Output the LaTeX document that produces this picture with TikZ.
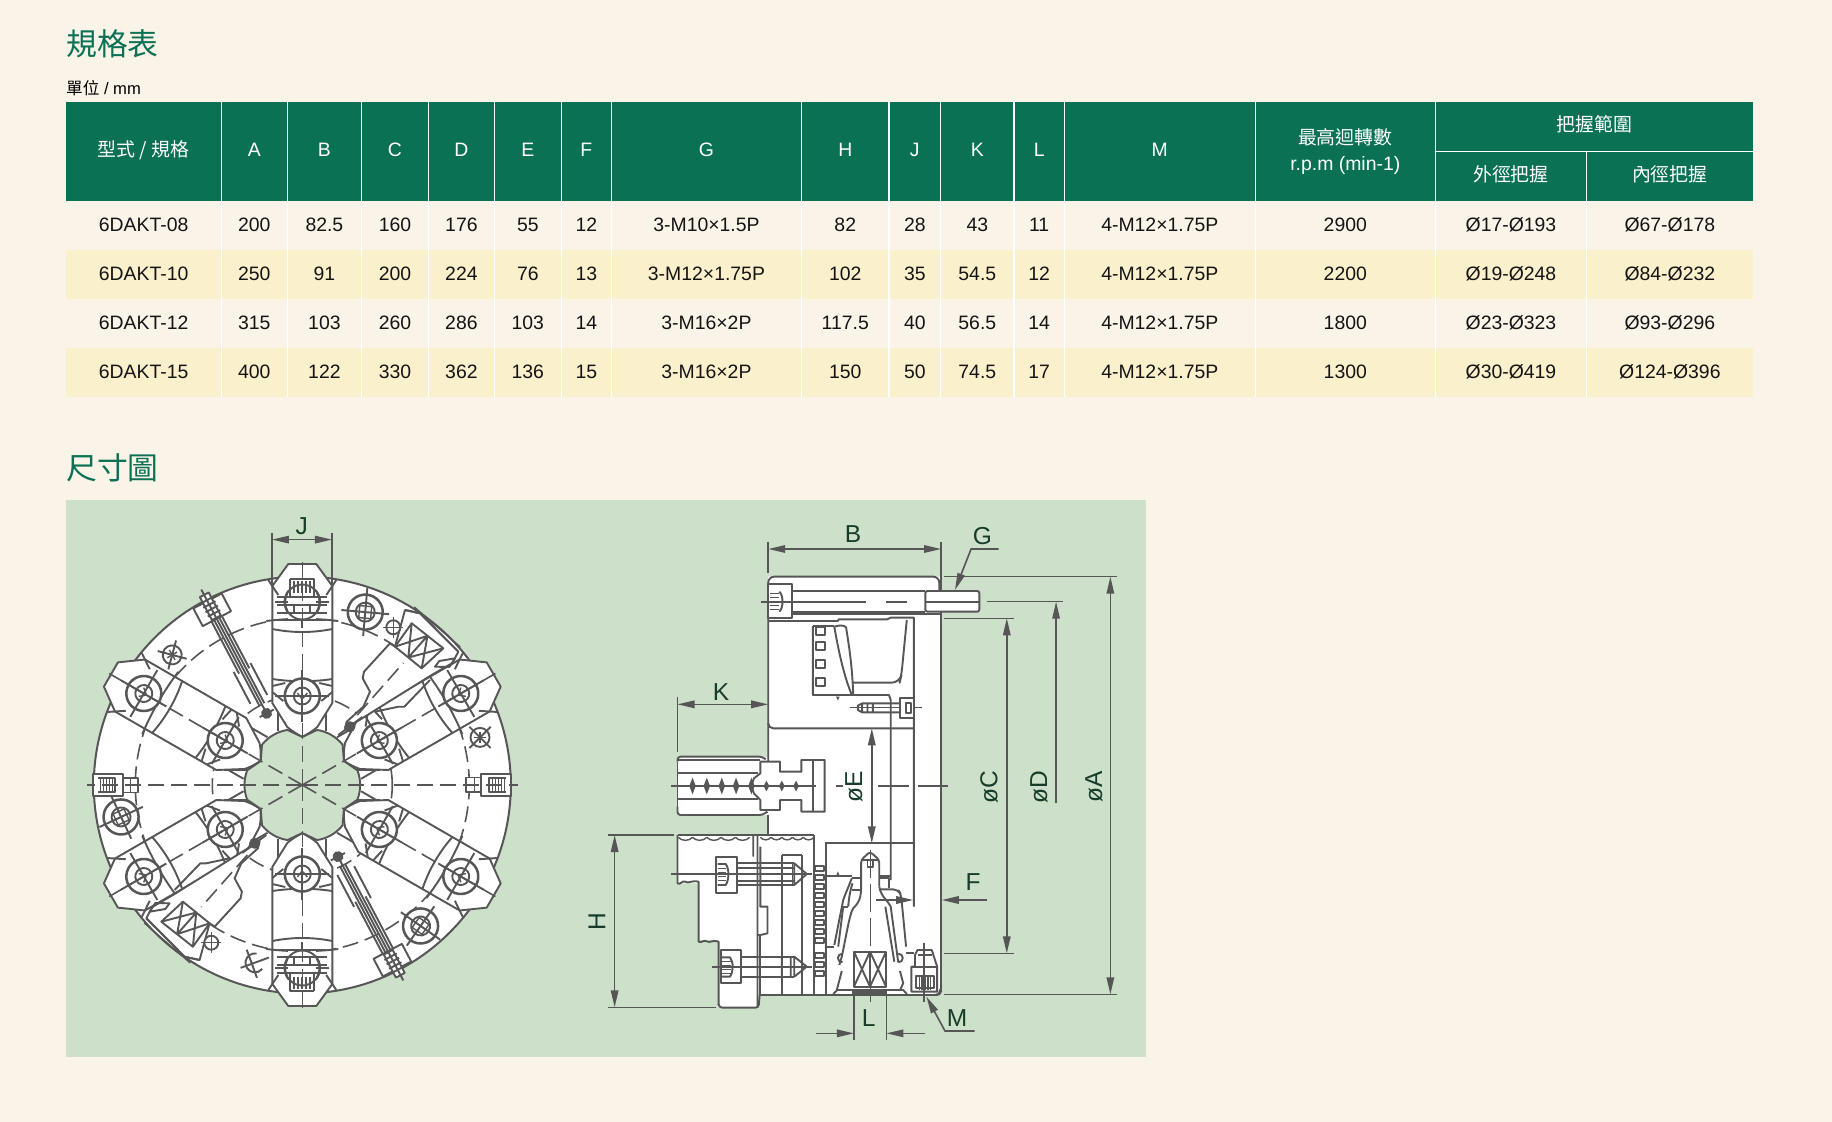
\documentclass[tikz,border=0pt]{standalone}
\usepackage{fontspec}
\setmainfont{Liberation Sans}
\newfontfamily\cjk{Noto Sans CJK TC}
\usetikzlibrary{arrows.meta}
\definecolor{pagebg}{HTML}{FAF3E8}
\definecolor{headgreen}{HTML}{0B7155}
\definecolor{rowa}{HTML}{FBF0CC}
\definecolor{panel}{HTML}{CDE0CA}
\definecolor{lc}{HTML}{565656}
\definecolor{lab}{HTML}{173C2A}
\newcommand\zh[1]{{\fontsize{18.9}{22}\selectfont\cjk #1}}
\tikzset{
  ln/.style={line width=1.9pt,draw=lc,line join=round},
  tn/.style={line width=1.4pt,draw=lc,line join=round},
  thk/.style={line width=2.6pt,draw=lc},
  axis/.style={line width=1.6pt,draw=lc,dash pattern=on 16pt off 7pt},
  cell/.style={inner sep=0pt,text=black!92,font=\fontsize{19.4}{22}\selectfont,anchor=center,text height=13.9pt,text depth=0pt},
  headcell/.style={cell,text=white},
  title/.style={inner sep=0pt,text=headgreen,font=\fontsize{30.8}{34}\selectfont\cjk,anchor=west},
  dim/.style={line width=1.6pt,draw=lc},
  arr/.style={-{Triangle[length=17pt,width=7.5pt,fill=lc]}},
  darr/.style={{Triangle[length=17pt,width=7.5pt,fill=lc]}-{Triangle[length=17pt,width=7.5pt,fill=lc]}},
  lbl/.style={inner sep=0pt,text=lab,font=\fontsize{24.5}{26}\selectfont},
  za/.style={shift={(580,510)},x=0.35714pt,y=-0.33333pt},
  zb/.style={shift={(580,800)},x=0.35714pt,y=-0.33333pt},
}
\def\colcenters{{143.7,254.35,324.4,395,461.4,527.8,586.35,706.45,845.25,914.8,977.3,1039.2,1159.8,1345.3,1510.95,1669.85}}
\newcommand\tablerow[3]{%
  \foreach \celltxt [count=\i from 0] in {#3} {
    \pgfmathsetmacro\cellx{\colcenters[\i]}
    \node[cell] (#2-\i) at (\cellx,#1) {\celltxt};
  }%
}
% one jaw, pointing up, tip towards the centre
\newcommand\jaw[1]{%
\begin{scope}[rotate=#1]
  \draw[ln] (-24,78)--(-24,54) (24,78)--(24,54);
  \filldraw[ln,fill=white] (-30,82)--(-30,199)--(-14,221)--(14,221)--(30,199)--(30,82)--(15,58)
     .. controls (8,52) and (3,50) .. (0,48) .. controls (-3,50) and (-8,52) .. (-15,58)--cycle;
  \draw[ln] (-36,164) .. controls (-12,167) and (12,167) .. (36,164);
  \draw[ln] (-30,156) .. controls (-10,152) and (10,152) .. (30,156);
  \draw[ln] (-30,106) .. controls (-10,103) and (10,103) .. (30,106);
  \draw[ln] (-30,99) -- (-17,102) (30,99) -- (17,102) (-30,93)--(-19,84) (30,93)--(19,84);
  \draw[ln] (-34,205)--(-24,190) (34,205)--(24,190);
  \foreach \cy in {89,183} {
    \filldraw[ln,fill=white,line width=2.5pt] (0,\cy) circle (17.5);
    \draw[ln] (0,\cy) circle (8.5);
    \draw[tn] (-5,\cy+3)--(-1,\cy-2)--(1,\cy-2)--(5,\cy+3);
    \draw[ln] (-27,\cy)--(27,\cy) (0,\cy-26)--(0,\cy+26);
  }
\end{scope}}
\newcommand\jawhatch[1]{%
\begin{scope}[rotate=#1]
  \fill[white] (-14,166) rectangle (14,210);
  \draw[ln] (0,183) circle (17.5);
  \draw[ln] (-12,206)--(12,206)--(12,188) (-12,206)--(-12,188);
  \foreach \hx in {-8,-4,0,4,8} {\draw[ln] (\hx,192)--(\hx,204);}
  \draw[ln] (-25,188)--(25,188) (-25,180)--(25,180) (-25,172)--(25,172);
  \draw[ln] (-8,181)--(-8,172) (8,181)--(8,172);
  \draw[thk] (-24,165)--(24,165);
\end{scope}}
\newcommand\bigbolt[1]{%
\begin{scope}[shift={(#1:184)},rotate=#1+15]
  \filldraw[ln,fill=white,line width=2.5pt] (0,0) circle (17.5);
  \draw[ln] (0,0) circle (9.5);
  \draw[tn] (-6,-6) rectangle (6,6);
  \draw[ln] (-24,0)--(24,0) (0,-24)--(0,24);
\end{scope}}
\newcommand\smallbolt[1]{%
\begin{scope}[shift={(#1:184)},rotate=#1+30]
  \draw[ln] (0,0) circle (9.5);
  \draw[ln] (-15,0)--(15,0) (0,-15)--(0,15);
  \draw[tn] (-4,-4)--(4,4) (-4,4)--(4,-4);
\end{scope}}
\newcommand\lockpiece[1]{%
\begin{scope}[rotate=#1]
  \filldraw[ln,fill=white] (-209,11) rectangle (-179,-11);
  \filldraw[ln,fill=white] (-179,7) rectangle (-164,-7.5);
  \draw[ln] (-204,7)--(-187,7)--(-187,-7)--(-204,-7);
  \foreach \hx in {-202,-199,-196,-193,-190} {\draw[tn] (\hx,-6)--(\hx,6);}
  \draw[tn] (-172,7)--(-172,-7.5);
\end{scope}}
\newcommand\slimscrew[1]{%
\begin{scope}[rotate=#1]
\begin{scope}[rotate=27.8]
  \filldraw[ln,fill=white] (-14,187) -- (-14,207) -- (18,207) -- (18,187) -- cycle;
  \filldraw[ln,fill=white] (-3,188) rectangle (7,214);
  \foreach \hy in {193,198,203,208} {\draw[ln] (-5,\hy)--(9,\hy);}
  \draw[ln] (-1,90)--(-1,188) (4.6,90)--(4.6,188);
  \draw[ln] (1.8,79)--(1.8,220);
  \draw[ln] (-8,96)--(-8,132) (11,96)--(11,132) (-4,128)--(-4,188) (7.6,128)--(7.6,188);
  \fill[lc] (1.8,80) circle (5.5);
  \draw[ln] (-6,80)--(10,80);
\end{scope}
\end{scope}}
\newcommand\wedgepart[1]{%
\begin{scope}[rotate=#1]
  \filldraw[ln,fill=white] (42.7,56.7)--(44.4,63.3)--(61,78.3)--(67.7,93.3)--(60.4,106.7)--(61.7,113.3)--(87.7,141.7)
     --(92.7,138.3)--(102.7,175)--(117.7,171.7)--(156,133.3)--(150,122)--(127.7,109)--(54.4,63.3)--cycle;
  \draw[ln] (109.4,161.7)--(141,136.7)--(119.4,116.7)--(92.7,138.3)--cycle;
  \draw[ln] (125.2,149.2)--(106,127.5) (109.4,161.7)--(106,127.5) (92.7,138.3)--(125.2,149.2) (125.2,149.2)--(119.4,116.7) (141,136.7)--(106,127.5);
  \draw[ln] (102.7,175)--(117.7,171.7) (117.7,171.7)--(156,133.3);
  \draw[tn] (112,178)--(158,138);
  \draw[ln] (132.7,118.3)--(137,124)--(152.7,126.7)--(147,118)--cycle;
  \draw[ln] (72.7,73.3)--(96,78.3)--(102,78.3)--(127.7,105);
  \filldraw[ln,fill=white] (91,157.7) circle (7);
  \draw[tn] (81,157.7)--(101,157.7) (91,147)--(91,168);
  \fill[lc] (47.7,58.3) circle (5.5);
  \draw[ln] (36,50)--(60,68);
  \draw[axis] (55,70)--(101,122);
\end{scope}}
\newcommand\lobe[1]{-- ({#1+15}:57) .. controls ({#1+5}:59) and ({#1-5}:59) .. ({#1-15}:57) -- ({#1-30}:48)}
\begin{document}
\begin{tikzpicture}[x=1pt,y=-1pt]
\useasboundingbox (0,0) rectangle (1832,1122);
\fill[pagebg] (0,0) rectangle (1832,1122);
% ---------- titles
\node[title] (t1) at (66,43.5) {規格表};
\node[inner sep=0pt,anchor=west,text=black,font=\fontsize{16.6}{18}\selectfont] (unit) at (66,88) {{\cjk 單位} / mm};
\node[title] (t2) at (66,467.5) {尺寸圖};
% ---------- table
\fill[headgreen] (66.07,101.7) rectangle (1753.2,201);
\fill[rowa] (66.07,250) rectangle (1753.2,299);
\fill[rowa] (66.07,348) rectangle (1753.2,397);
\foreach \sx in {221.4,287.3,361.5,428.5,494.3,561.3,611.4,801.5,889,940.6,1014,1064.8,1255.2,1435.4}
  {\draw[white,line width=1.2pt] (\sx,101.7)--(\sx,397);}
\draw[white,line width=1.2pt] (1586.5,151.7)--(1586.5,397);
\draw[white,line width=1.2pt] (1435.4,151.7)--(1753.2,151.7);
\node[headcell] (h0) at (143.7,149.5) {\zh{型式 / 規格}};
\foreach \hx/\hdtxt [count=\i] in {254.35/A,324.4/B,395/C,461.4/D,527.8/E,586.35/F,706.45/G,845.25/H,914.8/J,977.3/K,1039.2/L,1159.8/M}
  {\node[headcell] (h\i) at (\hx,149.5) {\hdtxt};}
\node[headcell] (h13) at (1345.3,137.5) {\zh{最高迴轉數}};
\node[headcell] (h14) at (1345.3,163.5) {r.p.m (min-1)};
\node[headcell] (h15) at (1594.3,125) {\zh{把握範圍}};
\node[headcell] (h16) at (1510.95,174.5) {\zh{外徑把握}};
\node[headcell] (h17) at (1669.85,174.5) {\zh{內徑把握}};
\tablerow{224.5}{ra}{6DAKT-08,200,82.5,160,176,55,12,3-M10×1.5P,82,28,43,11,4-M12×1.75P,2900,Ø17-Ø193,Ø67-Ø178}
\tablerow{273.5}{rb}{6DAKT-10,250,91,200,224,76,13,3-M12×1.75P,102,35,54.5,12,4-M12×1.75P,2200,Ø19-Ø248,Ø84-Ø232}
\tablerow{322.5}{rc}{6DAKT-12,315,103,260,286,103,14,3-M16×2P,117.5,40,56.5,14,4-M12×1.75P,1800,Ø23-Ø323,Ø93-Ø296}
\tablerow{371.5}{rd}{6DAKT-15,400,122,330,362,136,15,3-M16×2P,150,50,74.5,17,4-M12×1.75P,1300,Ø30-Ø419,Ø124-Ø396}
% ---------- panel
\fill[panel] (66,500) rectangle (1146,1057);
% ---------- front view
\begin{scope}[shift={(302.3,785)},x=1pt,y=1pt]
  \filldraw[ln,fill=white,line width=2pt] (0,0) circle (208.5);
  \draw[axis] (0,0) circle (167);
  \draw[axis] (0,0) circle (90);
  % ribs in the gaps
  \foreach \ang in {0,180} {
    \begin{scope}[rotate=\ang]
      \draw[ln] (55,15)--(78,15) (55,-15)--(78,-15);
    \end{scope}}
  \lockpiece{0}\lockpiece{180}
  \foreach \ang in {0,120,240} {\bigbolt{70+\ang}}
  \smallbolt{135}\smallbolt{15}
  \begin{scope}[shift={(255:184)},rotate=20]
    \draw[ln] (5,8) arc (60:300:9.5);
    \draw[ln] (-15,0)--(15,0) (-3,-15)--(-3,15);
  \end{scope}
  \slimscrew{0}\slimscrew{180}
  \jaw{-60}\jaw{60}\jaw{120}\jaw{-120}\jaw{0}\jaw{180}
  \jawhatch{0}\jawhatch{180}
  \wedgepart{0}\wedgepart{180}
  % central bore
  \filldraw[ln,fill=panel] (30:48) \lobe{0} \lobe{-60} \lobe{-120} \lobe{-180} \lobe{-240} \lobe{-300} -- cycle;
  % centre lines
  \foreach \ang/\rad in {0/216,180/215,90/223,270/230,30/228,150/228,210/228,330/228}
    {\draw[axis] (0,0) -- (\ang:\rad);}
\end{scope}
% J dimension
\begin{scope}[shift={(60,500)},x=0.33333pt,y=-0.34435pt]
  \draw[dim] (636,95)--(636,250) (816,95)--(816,250);
  \draw[dim,darr] (636,115)--(816,115);
\end{scope}
\node[lbl] (lJ) at (301.7,526) {J};
% ---------- side view
\begin{scope}[za]
  \fill[white] (527,200)--(1011,200)--(1011,1455)--(500,1455)--(500,1492)--(392,1492)--(388,1485)--(388,1290)--(332,1290)--(332,1120)--(273,1120)--(273,975)--(527,975)--cycle;
  \fill[white] (273,740) rectangle (527,915);
  % body
  \draw[ln,rounded corners=6pt] (527,755)--(527,200)--(1006,200)--(1006,242);
  \draw[ln] (527,915)--(527,975);
  \draw[ln,line width=2.2pt] (1011,95)--(1011,1445);
  \draw[ln,rounded corners=4pt] (1011,1445)--(1011,1455)--(503,1455);
  \draw[ln] (527,332)--(720,332) (595,312)--(1011,312);
  \draw[ln] (720,335)--(725,328)--(860,328)--(870,323)--(935,323)--(935,1190);
  % main bolt
  \draw[ln] (527,243)--(967,243) (527,305)--(967,305);
  \filldraw[ln,fill=white] (527,222)--(593,222)--(593,325)--(527,325)--cycle;
  \foreach \hy in {250,262,274,286,298} {\draw[tn] (532,\hy)--(558,\hy);}
  \draw[ln] (558,245) .. controls (570,255) and (570,295) .. (558,305);
  \filldraw[ln,fill=white,rounded corners=2pt] (967,243) rectangle (1118,305);
  \draw[ln] (508,275)--(800,275) (858,275)--(915,275) (965,275)--(1118,275);
  % pocket
  \draw[ln] (652,348)--(712,348);
  \draw[ln] (652,348)--(652,555)--(865,555)--(870,570)--(870,1110);
  \foreach \ty in {350,395,450,503} {\draw[ln] (660,\ty) rectangle (686,\ty+25);}
  \draw[ln] (712,350) .. controls (725,345) and (740,345) .. (745,352) .. controls (755,420) and (762,470) .. (765,552);
  \draw[ln] (712,350) .. controls (725,430) and (740,500) .. (760,552);
  \draw[ln,rounded corners=8pt] (765,518)--(895,518)--(900,495)--(915,330);
  \fill[lc] (717,560)--(727,560)--(722,571)--cycle;
  % small bolt
  \draw[tn] (755,593)--(957,593);
  \draw[ln] (790,580)--(897,580) (790,607)--(897,607) (790,580)--(778,587)--(778,600)--(790,607)--cycle (790,580)--(790,607) (805,580)--(805,607) (820,580)--(820,607);
  \filldraw[ln,fill=white] (897,565) rectangle (935,625);
  \draw[ln] (912,580) rectangle (928,610);
  \draw[ln,rounded corners=5pt] (527,640)--(527,655)--(935,655);
  \draw[dim,darr] (817,655)--(817,1000);
  % upper-left jaw
  \draw[ln,rounded corners=3pt] (273,755)--(273,740)--(510,740)--(520,748);
  \draw[ln,rounded corners=3pt] (273,890)--(273,915)--(510,915)--(525,905);
  \draw[ln] (273,755)--(273,890);
  \draw[ln] (273,750)--(505,750) (273,790)--(497,790) (273,868)--(497,868);
  \filldraw[ln,fill=white] (505,755)--(560,755)--(560,785)--(620,785)--(620,750)--(685,750)--(685,905)--(620,905)--(620,870)--(560,870)--(560,900)--(505,900)--(505,870)--(487,850)--(480,828)--(487,805)--(505,790)--cycle;
  \draw[ln] (652,750)--(652,905);
  \draw[thk] (255,828)--(660,828);
  \foreach \dm in {315,355,397,437,480} {\fill[lc] ({\dm-9},828)--(\dm,803)--({\dm+9},828)--(\dm,853)--cycle;}
  \foreach \dm in {522,565,605} {\fill[lc] ({\dm-8},828)--(\dm,812)--({\dm+8},828)--(\dm,844)--cycle;}
  \draw[dim] (718,828)--(735,828) (835,828)--(920,828) (945,828)--(1030,828);
  % dimension lines
  \draw[dim] (527,95)--(527,190);
  \draw[dim,darr] (527,117)--(1011,117);
  \draw[dim,arr] (1172,117)--(1095,117)--(1050,240);
  \draw[dim] (1018,200)--(1503,200) (1140,275)--(1352,275) (1018,325)--(1215,325) (1018,1330)--(1215,1330) (1018,1453)--(1503,1453);
  \draw[dim,darr] (1485,200)--(1485,1453);
  \draw[dim,arr] (1333,880)--(1333,275);
  \draw[dim,darr] (1195,325)--(1195,1330);
  \draw[dim] (273,560)--(273,725);
  \draw[dim,darr] (273,583)--(527,583);
\end{scope}
\begin{scope}[zb]
  % lower-left jaw
  \draw[ln] (273,105)--(655,105);
  \draw[ln] (273,105)--(273,250) .. controls (282,256) and (285,240) .. (295,245) .. controls (305,252) and (310,240) .. (332,245)--(332,425) .. controls (342,430) and (345,418) .. (355,424) .. controls (365,430) and (372,418) .. (388,425)--(388,615);
  \draw[ln,rounded corners=3pt] (388,612)--(390,623)--(500,623)--(503,585);
  \foreach \sx in {275,315,355,395,435} {\draw[tn] (\sx,112) .. controls ({\sx+10},124) and ({\sx+30},124) .. ({\sx+40},112);}
  \foreach \sx in {505,535,565,595,625} {\draw[tn] (\sx,112) .. controls ({\sx+8},122) and ({\sx+22},122) .. ({\sx+30},112);}
  \draw[ln] (497,105)--(497,623) (485,108)--(485,170) (505,140)--(505,300)--(505,320)--(525,320)--(525,400)--(505,405)--(497,405);
  \draw[ln] (505,405)--(505,585);
  \draw[ln] (565,165)--(565,585) (622,165)--(622,585) (565,165)--(622,165) (655,105)--(655,585) (690,130)--(690,585) (685,130)--(935,130);
  % rack
  \foreach \ry in {198,225,252,279,306,333,360,387,414,460,487,514} {\draw[ln] (657,\ry) rectangle (682,{\ry+14});}
  % upper bolt
  \draw[ln] (440,190)--(600,190) (440,255)--(600,255) (440,203)--(600,203) (440,243)--(600,243);
  \draw[ln] (600,190)--(635,222)--(600,255)--cycle;
  \filldraw[ln,fill=white] (380,172) rectangle (440,278);
  \draw[ln] (385,192)--(408,192) .. controls (418,205) and (418,240) .. (408,255)--(385,255);
  \foreach \hy in {205,217,229,241} {\draw[tn] (385,\hy)--(410,\hy);}
  \draw[ln] (565,190) rectangle (595,255);
  \draw[ln] (255,222)--(650,222);
  % lower bolt
  \draw[ln] (450,470)--(600,470) (450,530)--(600,530);
  \draw[ln] (600,470)--(635,500)--(600,530)--cycle (565,470)--(565,530) (590,470)--(590,530);
  \filldraw[ln,fill=white] (395,450) rectangle (450,550);
  \draw[ln] (398,472)--(420,472) .. controls (430,485) and (430,515) .. (420,530)--(398,530);
  \foreach \hy in {484,496,508,520} {\draw[tn] (398,\hy)--(422,\hy);}
  \draw[ln] (370,500)--(650,500);
  % wedge
  \draw[ln] (690,227)--(761,227) (838,227)--(870,227);
  \fill[lc] (717,228)--(727,228)--(722,214)--cycle;
  \draw[ln] (761,235)--(787,235) (838,235)--(866,235)--(866,265) (761,270)--(787,270);
  \draw[ln,rounded corners=3pt] (787,240)--(787,180)--(812,155)--(838,180)--(838,260);
  \draw[ln] (787,180)--(838,180) (805,180)--(805,200)--(820,200)--(820,180);
  \draw[ln] (787,240) .. controls (787,280) and (789,300) .. (765,325) .. controls (755,340) and (745,410) .. (733,470) -- (726,495);
  \draw[ln] (838,260) .. controls (842,290) and (865,305) .. (870,320) -- (891,487);
  \draw[ln] (761,235) .. controls (750,265) and (740,290) .. (737,300) -- (712,435);
  \draw[ln] (763,250) .. controls (755,275) and (752,305) .. (751,320) (737,320)--(723,440);
  \draw[ln] (737,320)--(751,320);
  \draw[ln,rounded corners=5pt] (838,268)--(891,268)--(899,285)--(913,440);
  \draw[ln] (855,320)--(880,485);
  \draw[ln] (690,440)--(712,440) (913,460)--(935,460);
  \draw[ln] (735,487) arc (90:270:13) (891,487) arc (90:-90:13);
  \draw[ln] (733,513)--(719,570) (896,513)--(905,550)--(896,570);
  \draw[ln] (767,455) rectangle (857,560);
  \draw[ln] (812,455)--(812,560) (767,455)--(812,560) (812,455)--(767,560) (812,455)--(857,560) (857,455)--(812,560);
  \draw[ln] (709,582)--(720,570)--(905,570)--(915,582);
  \draw[ln,line width=2.4pt] (762,577)--(860,577);
  \draw[dim,dash pattern=on 28pt off 6pt] (813,150)--(813,605);
  % M bolt
  \draw[ln] (938,500)--(938,465)--(945,450)--(985,450)--(1000,500)--(1000,575)--(928,575)--(928,500)--cycle;
  \draw[ln] (928,500)--(1000,500);
  \draw[ln] (940,528) rectangle (990,565);
  \foreach \mx in {950,958,966,974,982} {\draw[tn] (\mx,528)--(\mx,570);}
  \draw[ln] (962,428)--(962,605) (945,465)--(985,465);
  \draw[ln] (1008,568) .. controls (1008,582) and (1000,585) .. (990,585);
  % dims
  \draw[dim] (78,105)--(262,105) (78,622)--(382,622);
  \draw[dim,darr] (97,105)--(97,622);
  \draw[dim,arr] (1140,300)--(1013,300);
  \draw[dim,arr] (830,300)--(933,300);
  \draw[dim] (767,580)--(767,720) (858,580)--(858,720);
  \draw[dim,arr] (660,700)--(767,700);
  \draw[dim,arr] (967,700)--(858,700);
  \draw[dim,arr] (1105,693)--(1022,693)--(970,590);
\end{scope}
% labels
\node[lbl] (lB) at (853,534) {B};
\node[lbl] (lG) at (982.5,536) {G};
\node[lbl] (lK) at (721,691.7) {K};
\node[lbl,rotate=90] (lE) at (854,787) {øE};
\node[lbl,rotate=90] (lC) at (989,787) {øC};
\node[lbl,rotate=90] (lD) at (1039,787) {øD};
\node[lbl,rotate=90] (lA) at (1094,787) {øA};
\node[lbl,rotate=90] (lH) at (597,922) {H};
\node[lbl] (lF) at (973,882) {F};
\node[lbl] (lL) at (868.6,1018) {L};
\node[lbl] (lM) at (957,1018) {M};
\end{tikzpicture}
\end{document}
